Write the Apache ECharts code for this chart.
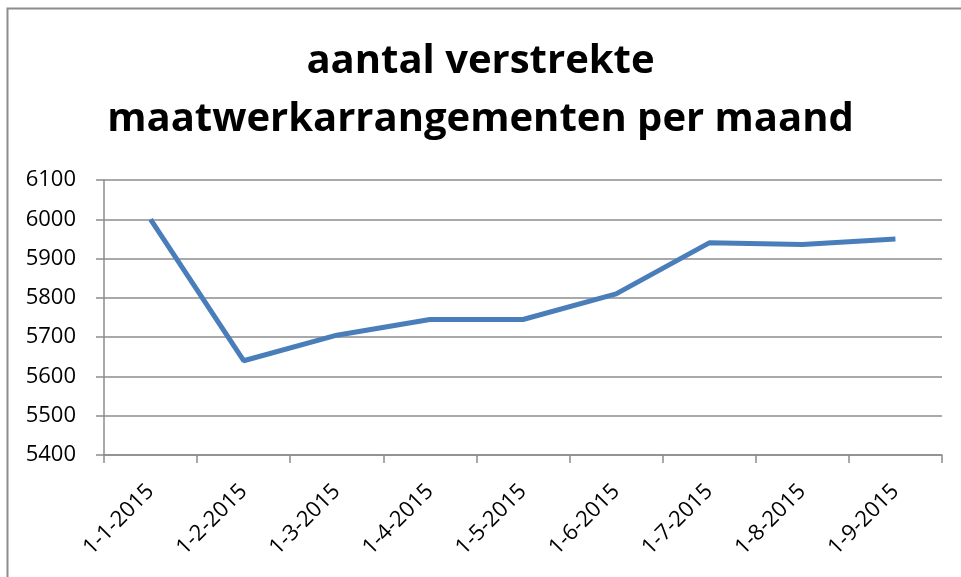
<!DOCTYPE html>
<html>
<head>
<meta charset="utf-8">
<script src="https://cdn.jsdelivr.net/npm/echarts@6/dist/echarts.min.js"></script>
<style>
  html, body { margin: 0; padding: 0; background: #fff; }
  #chart { width: 961px; height: 577px; }
</style>
</head>
<body>
<div id="chart"></div>
<script>
// maandelijkse telling
const months = ["1-1-2015", "1-2-2015", "1-3-2015", "1-4-2015", "1-5-2015",
  "1-6-2015", "1-7-2015", "1-8-2015", "1-9-2015"];
const arrangementen = [6000, 5640, 5705, 5745, 5745, 5810, 5940, 5936, 5950];
const titleLines = ["aantal verstrekte", "maatwerkarrangementen per maand"];

const chart = echarts.init(document.getElementById("chart"));
const gray = "#8c8c8c";
const font = "'Open Sans', 'Liberation Sans', sans-serif";

const option = {
  animation: false,
  backgroundColor: "#fff",
  title: {
    text: titleLines.join("\n"),
    left: "center",
    top: 28,
    padding: [5, 0, 5, 16],
    textStyle: {
      fontFamily: font,
      fontWeight: "bold",
      fontSize: 40,
      lineHeight: 58,
      color: "#000",
    },
  },
  graphic: [
    {
      type: "rect",
      shape: { x: 7.5, y: 8.5, width: 1000, height: 1000 },
      style: { fill: "none", stroke: gray, lineWidth: 2 },
      silent: true,
    },
  ],
  grid: {
    left: 104,
    right: 19,
    top: 180,
    bottom: 122,
  },
  xAxis: {
    type: "category",
    data: months,
    boundaryGap: true,
    axisLine: { lineStyle: { color: gray, width: 1.5 } },
    axisTick: { show: true, length: 8, lineStyle: { color: gray, width: 1.5 } },
    axisLabel: {
      rotate: 45,
      margin: 33,
      interval: 0,
      color: "#000",
      fontFamily: font,
      fontSize: 22,
    },
  },
  yAxis: {
    type: "value",
    min: 5400,
    max: 6100,
    interval: 100,
    axisLine: { show: true, lineStyle: { color: gray, width: 1.5 } },
    axisTick: { show: true, length: 8, lineStyle: { color: gray, width: 1.5 } },
    splitLine: { lineStyle: { color: gray, width: 1.5 } },
    axisLabel: {
      margin: 28,
      color: "#000",
      fontFamily: font,
      fontSize: 22,
      formatter: (v) => String(v),
    },
  },
  series: [
    {
      name: "maatwerkarrangementen",
      type: "line",
      data: arrangementen,
      symbol: "none",
      lineStyle: { color: "#4a7ebb", width: 5 },
    },
  ],
};

chart.setOption(option);
</script>
</body>
</html>
